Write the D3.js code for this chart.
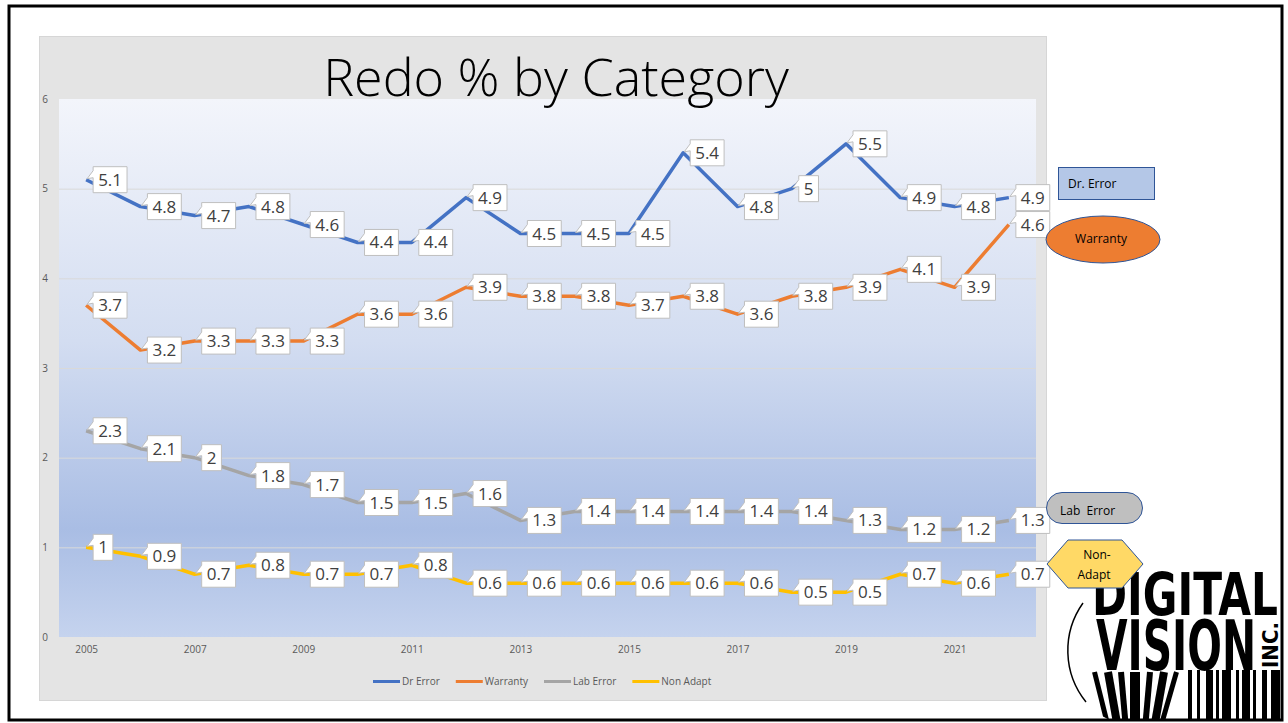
<!DOCTYPE html>
<html>
<head>
<meta charset="utf-8">
<script src="https://cdn.jsdelivr.net/npm/d3@7"></script>
<style>
  body { margin: 0; background: #fff; }
  svg { display: block; }
</style>
</head>
<body>
<script>
// data
const years = [2005, 2006, 2007, 2008, 2009, 2010, 2011, 2012, 2013, 2014, 2015, 2016, 2017, 2018, 2019, 2020, 2021, 2022];
const drError   = [5.1, 4.8, 4.7, 4.8, 4.6, 4.4, 4.4, 4.9, 4.5, 4.5, 4.5, 5.4, 4.8, 5, 5.5, 4.9, 4.8, 4.9];
const warranty  = [3.7, 3.2, 3.3, 3.3, 3.3, 3.6, 3.6, 3.9, 3.8, 3.8, 3.7, 3.8, 3.6, 3.8, 3.9, 4.1, 3.9, 4.6];
const labError  = [2.3, 2.1, 2, 1.8, 1.7, 1.5, 1.5, 1.6, 1.3, 1.4, 1.4, 1.4, 1.4, 1.4, 1.3, 1.2, 1.2, 1.3];
const nonAdapt  = [1, 0.9, 0.7, 0.8, 0.7, 0.7, 0.8, 0.6, 0.6, 0.6, 0.6, 0.6, 0.6, 0.5, 0.5, 0.7, 0.6, 0.7];
const seriesNames = ["Dr Error", "Warranty", "Lab Error", "Non Adapt"];
const yTicks = [0, 1, 2, 3, 4, 5, 6];
const xTickYears = [2005, 2007, 2009, 2011, 2013, 2015, 2017, 2019, 2021];

const colors = ["#4472c4", "#ed7d31", "#a5a5a5", "#ffc000"];
const font = "'Open Sans', 'Liberation Sans', sans-serif";

let w = 1288;
let h = 723;

let viz = d3.select("body")
  .append("svg")
    .attr("width", w)
    .attr("height", h);

let defs = viz.append("defs");
let grad = defs.append("linearGradient")
    .attr("id", "plotBg")
    .attr("x1", 0).attr("y1", 0).attr("x2", 0).attr("y2", 1);
grad.append("stop").attr("offset", "0%").attr("stop-color", "#f3f5fb");
grad.append("stop").attr("offset", "45%").attr("stop-color", "#d3ddf1");
grad.append("stop").attr("offset", "80%").attr("stop-color", "#a9bde4");
grad.append("stop").attr("offset", "100%").attr("stop-color", "#c5d3ee");

// chart area (grey)
viz.append("rect")
    .attr("x", 39.5).attr("y", 36.5)
    .attr("width", 1007).attr("height", 664)
    .attr("fill", "#e4e4e4")
    .attr("stroke", "#d6d6d6");

let plot = { left: 59, right: 1036, top: 99, bottom: 637 };

viz.append("rect")
    .attr("x", plot.left).attr("y", plot.top)
    .attr("width", plot.right - plot.left)
    .attr("height", plot.bottom - plot.top)
    .attr("fill", "url(#plotBg)");

let x = d3.scalePoint()
    .domain(years)
    .range([plot.left, plot.right])
    .padding(0.5);

let y = d3.scaleLinear()
    .domain([0, 6])
    .range([plot.bottom, plot.top]);

// gridlines
viz.append("g")
  .selectAll("line")
  .data(yTicks.filter(d => d > 0 && d < 6))
  .enter().append("line")
    .attr("x1", plot.left).attr("x2", plot.right)
    .attr("y1", d => y(d) + 0.5).attr("y2", d => y(d) + 0.5)
    .attr("stroke", "#d9d9d9")
    .attr("stroke-width", 1);

// y axis (labels only)
let yAxis = viz.append("g")
    .attr("transform", "translate(50,0)")
    .call(d3.axisLeft(y).tickValues(yTicks).tickFormat(d3.format("d")).tickSize(0).tickPadding(0));
yAxis.select(".domain").remove();
yAxis.selectAll("text")
    .attr("x", -5)
    .attr("text-anchor", "middle")
    .attr("fill", "#595959")
    .style("font-family", font)
    .style("font-size", "10px");

// x axis (labels only)
let xAxis = viz.append("g")
    .attr("transform", "translate(0,646)")
    .call(d3.axisBottom(x).tickValues(xTickYears).tickSize(0).tickPadding(0));
xAxis.select(".domain").remove();
xAxis.selectAll("text")
    .attr("fill", "#595959")
    .style("font-family", font)
    .style("font-size", "10px");

// title
viz.append("text")
    .attr("x", 556)
    .attr("y", 96)
    .attr("text-anchor", "middle")
    .attr("fill", "#000")
    .style("font-family", font)
    .style("font-weight", 300)
    .style("font-size", "52px")
    .text("Redo % by Category");

// lines
let series = [drError, warranty, labError, nonAdapt];

let lineFunction = d3.line()
    .x((d, i) => x(years[i]))
    .y(d => y(d));

let lines = viz.append("g").attr("class", "lines");
series.forEach(function (vals, s) {
  lines.append("path")
      .attr("d", lineFunction(vals))
      .attr("fill", "none")
      .attr("stroke", colors[s])
      .attr("stroke-width", 3.5)
      .attr("stroke-linejoin", "round");
});

// data labels: white callouts to the right of each point
let labels = viz.append("g").attr("class", "labels");
series.forEach(function (vals, s) {
  vals.forEach(function (v, i) {
    let px = x(years[i]);
    let py = y(v);
    let g = labels.append("g");
    let box = g.append("path");
    let t = g.append("text")
        .attr("x", px + 12)
        .attr("y", py + 6)
        .attr("fill", "#404040")
        .style("font-family", font)
        .style("font-size", "17px")
        .text(String(v));
    let tw = t.node().getComputedTextLength();
    let bx = px + 7, by = py - 13, bw = tw + 10, bh = 26;
    box.attr("d",
        "M" + bx + "," + by +
        "H" + (bx + bw) + "V" + (by + bh) + "H" + bx +
        "V" + (by + 11) + "L" + (px + 1) + "," + (py - 1) +
        "L" + bx + "," + (by + 4) + "Z")
      .attr("fill", "#fff")
      .attr("stroke", "#bfbfbf")
      .attr("stroke-width", 1);
  });
});

// legend
let legend = viz.append("g").attr("class", "legend");
let lx = 373;
seriesNames.forEach(function (name, s) {
  legend.append("line")
      .attr("x1", lx).attr("x2", lx + 27)
      .attr("y1", 681.5).attr("y2", 681.5)
      .attr("stroke", colors[s])
      .attr("stroke-width", 3);
  let t = legend.append("text")
      .attr("x", lx + 29)
      .attr("y", 685)
      .attr("fill", "#595959")
      .style("font-family", font)
      .style("font-size", "10px")
      .text(name);
  lx += 29 + t.node().getComputedTextLength() + 16;
});

// logo (drawn under the side shapes)
let logo = viz.append("g").attr("class", "logo");
let logoFont = "'Liberation Sans Narrow', 'DejaVu Sans Condensed', sans-serif";
defs.append("clipPath").attr("id", "slideClip")
  .append("rect").attr("x", 10).attr("y", 7).attr("width", 1271).attr("height", 712);

logo.append("text")
    .attr("x", 1092).attr("y", 615)
    .attr("textLength", 186)
    .attr("lengthAdjust", "spacingAndGlyphs")
    .style("font-family", logoFont)
    .style("font-weight", 700)
    .style("font-size", "58px")
    .text("DIGITAL");
logo.append("text")
    .attr("x", 1096).attr("y", 670)
    .attr("textLength", 160)
    .attr("lengthAdjust", "spacingAndGlyphs")
    .style("font-family", logoFont)
    .style("font-weight", 700)
    .style("font-size", "70px")
    .text("VISION");
logo.append("text")
    .attr("transform", "translate(1278,668) rotate(-90)")
    .attr("textLength", 46)
    .attr("lengthAdjust", "spacingAndGlyphs")
    .style("font-family", logoFont)
    .style("font-weight", 700)
    .style("font-size", "21px")
    .text("INC.");

let barcode = logo.append("g").attr("clip-path", "url(#slideClip)");
let bars = [[1188, 4], [1197, 3], [1206, 7], [1216, 3], [1222, 9], [1236, 3], [1242, 8], [1253, 3], [1262, 5], [1271, 9]];
barcode.append("g").selectAll("rect")
  .data(bars).enter().append("rect")
    .attr("x", d => d[0]).attr("y", 670)
    .attr("width", d => d[1]).attr("height", 55)
    .attr("fill", "#000");

defs.append("clipPath").attr("id", "lensClip")
  .append("circle").attr("cx", 1140).attr("cy", 648).attr("r", 78);
let lens = barcode.append("g").attr("clip-path", "url(#lensClip)");
let lensBars = [[1092, 5, -14], [1104, 8, -10], [1118, 6, -5], [1130, 10, 0], [1147, 6, 5], [1160, 8, 10], [1174, 5, 16]];
lens.selectAll("rect")
  .data(lensBars).enter().append("rect")
    .attr("x", d => d[0]).attr("y", 672)
    .attr("width", d => d[1]).attr("height", 60)
    .attr("transform", d => "rotate(" + d[2] + "," + (d[0] + d[1] / 2) + ",672)")
    .attr("fill", "#000");

logo.append("path")
    .attr("d", "M1083,603 A82,82 0 0,0 1086,702")
    .attr("fill", "none")
    .attr("stroke", "#000")
    .attr("stroke-width", 1.5);

// side shapes
let side = viz.append("g").attr("class", "side");
let shapeFont = function (sel) {
  return sel.attr("fill", "#000")
    .style("font-family", font)
    .style("font-size", "12px");
};

side.append("rect")
    .attr("x", 1058.5).attr("y", 167.5)
    .attr("width", 96).attr("height", 32)
    .attr("fill", "#b4c7e7")
    .attr("stroke", "#2f5597");
shapeFont(side.append("text").attr("x", 1068).attr("y", 188)).text("Dr. Error");

side.append("ellipse")
    .attr("cx", 1103).attr("cy", 239.5)
    .attr("rx", 57).attr("ry", 23.5)
    .attr("fill", "#ed7d31")
    .attr("stroke", "#2f5597");
shapeFont(side.append("text").attr("x", 1101).attr("y", 243).attr("text-anchor", "middle")).text("Warranty");

side.append("rect")
    .attr("x", 1046.5).attr("y", 492.5)
    .attr("width", 96).attr("height", 31)
    .attr("rx", 15.5)
    .attr("fill", "#bfbfbf")
    .attr("stroke", "#2f5597");
shapeFont(side.append("text").attr("x", 1060).attr("y", 515).attr("xml:space", "preserve")).text("Lab  Error");

side.append("path")
    .attr("d", "M1047,564 L1068,540 L1122,540 L1143,564 L1122,588 L1068,588 Z")
    .attr("fill", "#ffd966")
    .attr("stroke", "#2f5597");
shapeFont(side.append("text").attr("x", 1097).attr("y", 559).attr("text-anchor", "middle")).text("Non-");
shapeFont(side.append("text").attr("x", 1094).attr("y", 579).attr("text-anchor", "middle")).text("Adapt");

// slide frame
viz.append("rect")
    .attr("x", 9).attr("y", 6)
    .attr("width", 1273).attr("height", 714)
    .attr("fill", "none")
    .attr("stroke", "#000")
    .attr("stroke-width", 3);
</script>
</body>
</html>
